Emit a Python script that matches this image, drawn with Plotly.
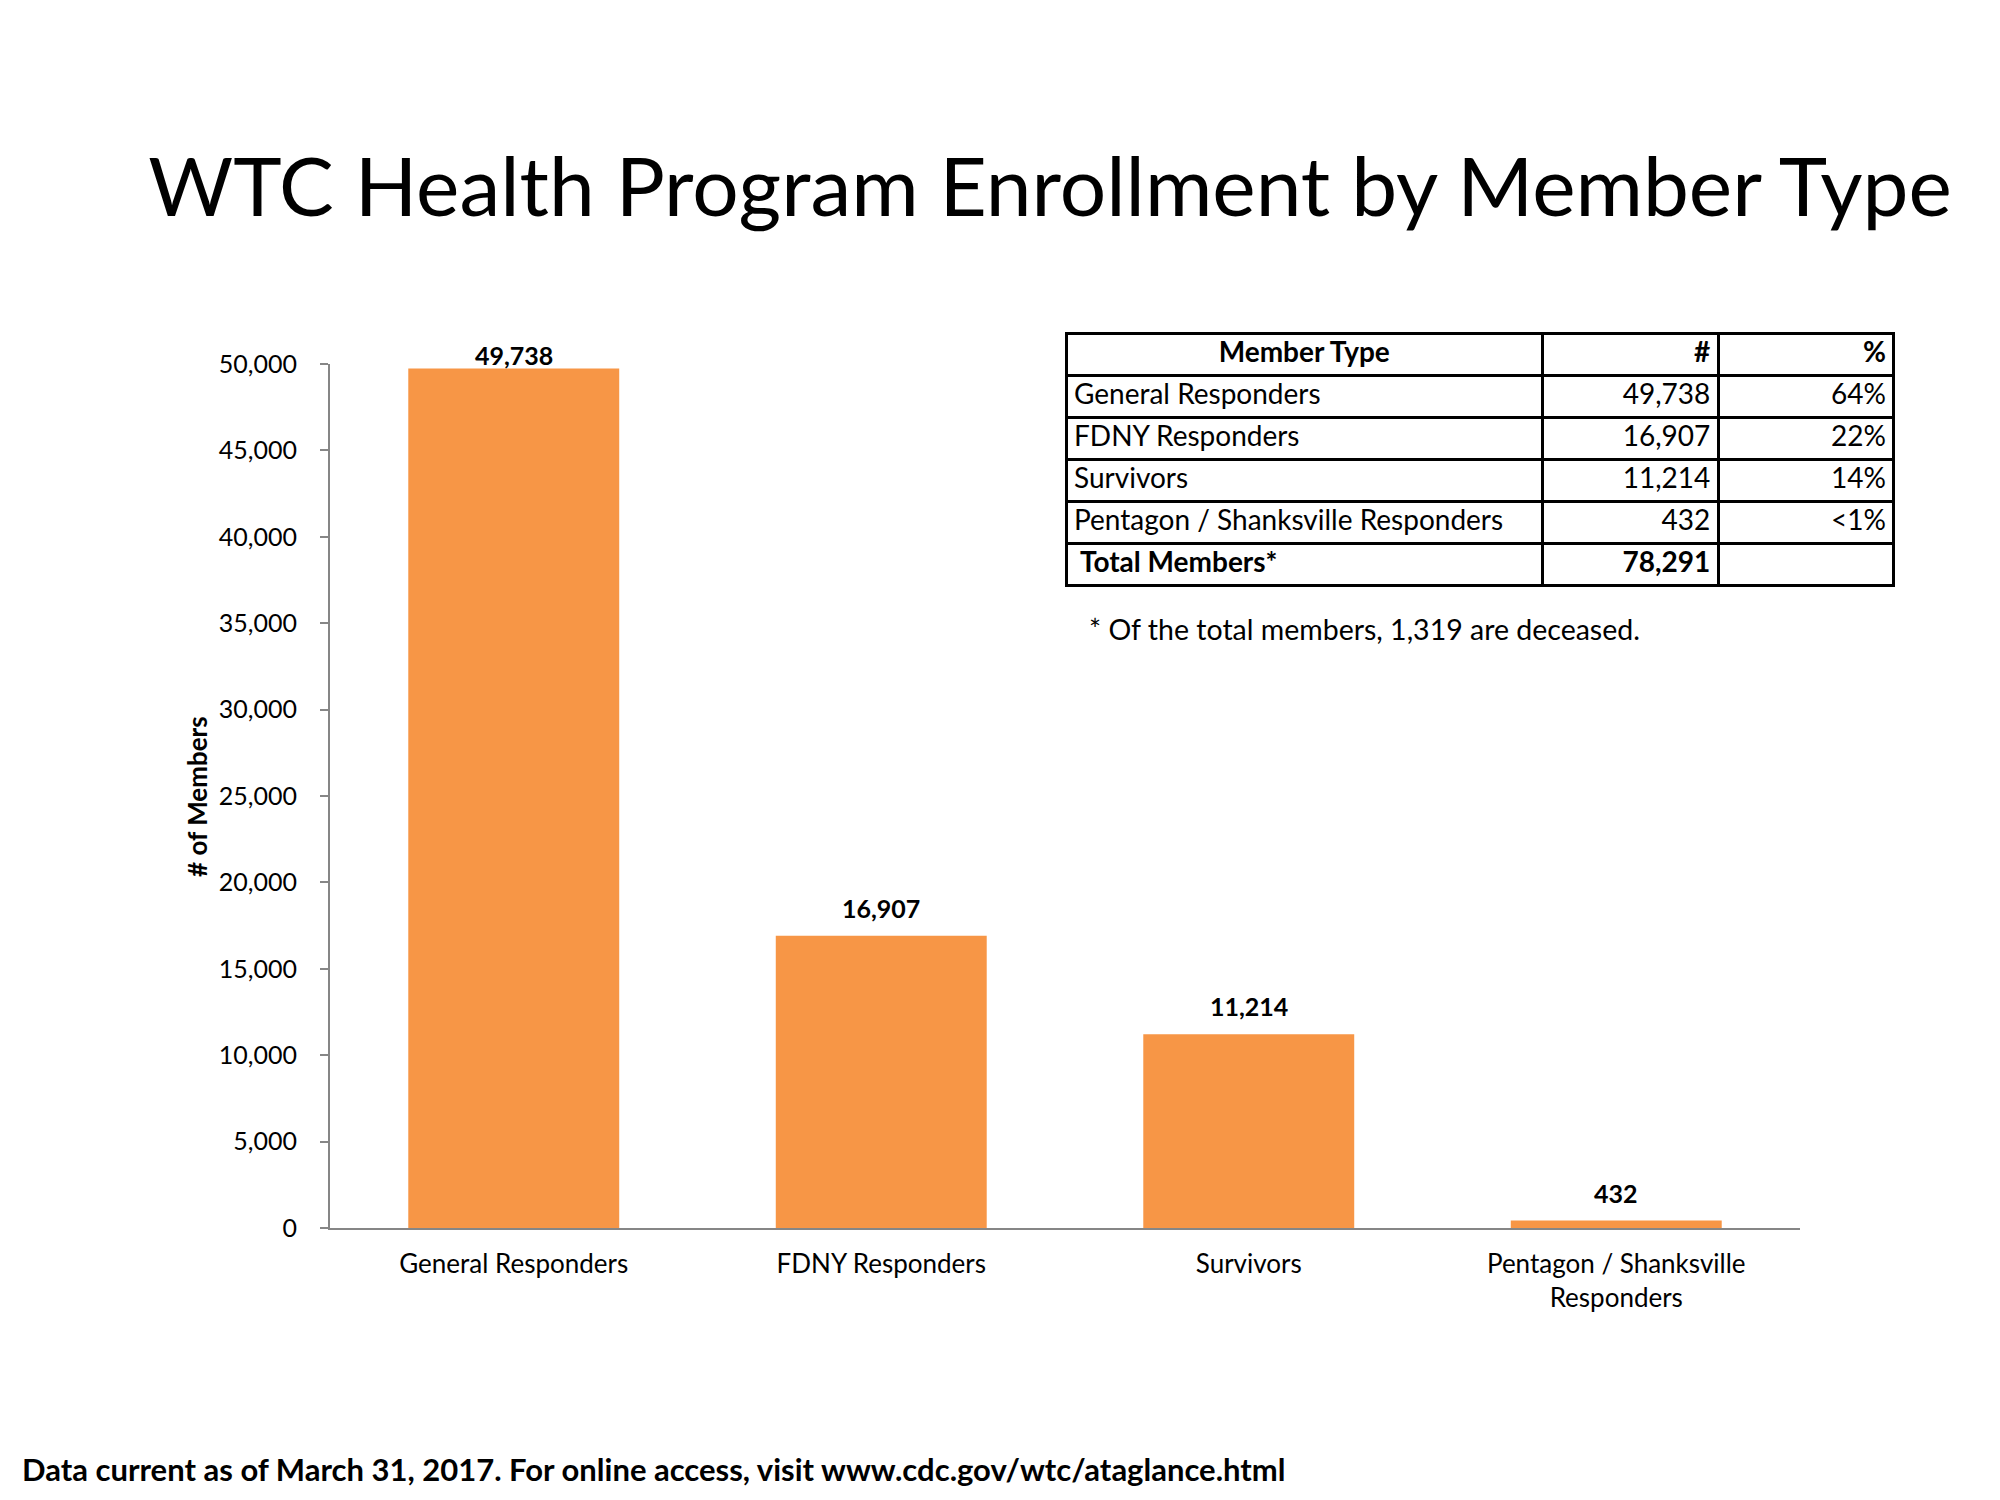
import plotly.graph_objects as go

categories = ["General Responders", "FDNY Responders", "Survivors", "Pentagon / Shanksville<br>Responders"]
members = [49738, 16907, 11214, 432]
table_types = ["General Responders", "FDNY Responders", "Survivors", "Pentagon / Shanksville Responders"]
table_pct = [64, 22, 14, 1]
table_pct_prefix = ["", "", "", "<"]
total_label = "Total Members*"
y_ticks = [0, 5000, 10000, 15000, 20000, 25000, 30000, 35000, 40000, 45000, 50000]

W, H = 2000, 1500
OFF = 8  # page body margin
L, R, T, B = 322, 70, 290, 280
PW, PH = W - L - R, H - T - B
PLOT_RIGHT, PLOT_TOP = 1800 - OFF, 364 - OFF
ROW_H = 42
TABLE_TOP = 333


def pxx(x):
    return (x - OFF - L) / PW


def pxy(y):
    return (H - B - (y - OFF)) / PH


FONT = "Lato"
ORANGE = "#F79646"
GRAY = "#868686"
TFONT = 28

fig = go.Figure()
fig.add_trace(go.Bar(x=categories, y=members, marker=dict(color=ORANGE, line=dict(width=0)),
                     hoverinfo="skip", showlegend=False))

annotations = []
ymax = 50000
for c, v in zip(categories, members):
    annotations.append(dict(x=c, y=v, xref="x", yref="y", text=f"<b>{v:,}</b>", showarrow=False,
                            yanchor="middle", xanchor="center",
                            yshift=14 if v > 0.95 * ymax else 28,
                            font=dict(family=FONT, size=25, color="black")))

annotations.append(dict(x=pxx(197), y=pxy(797), xref="paper", yref="paper", text="<b># of Members</b>",
                        textangle=-90, showarrow=False, xanchor="center", yanchor="middle",
                        font=dict(family=FONT, size=26, color="black")))
annotations.append(dict(x=pxx(1087), y=pxy(629), xref="paper", yref="paper",
                        text="* Of the total members, 1,319 are deceased.", showarrow=False,
                        xanchor="left", yanchor="middle", font=dict(family=FONT, size=28.5, color="black")))
annotations.append(dict(x=pxx(20), y=pxy(1469), xref="paper", yref="paper",
                        text="<b>Data current as of March 31, 2017. For online access, visit www.cdc.gov/wtc/ataglance.html</b>",
                        showarrow=False, xanchor="left", yanchor="middle",
                        font=dict(family=FONT, size=31, color="black")))

total = sum(members)
tx = [pxx(1066), pxx(1895)]
cw = [477, 176, 176]
tline = dict(color="black", width=3)
white = dict(color="white")

# rows without a prefix go in the main table; rows that need a prefix get their own one-row table
plain = [i for i, p in enumerate(table_pct_prefix) if p == ""]
special = [i for i, p in enumerate(table_pct_prefix) if p != ""]

y0 = TABLE_TOP
main_h = ROW_H * (len(plain) + 1)
fig.add_trace(go.Table(
    domain=dict(x=tx, y=[pxy(y0 + main_h + 2), pxy(y0)]),
    columnwidth=cw,
    header=dict(values=["Member Type", "#", "%"], align=["center", "right", "right"], height=ROW_H,
                line=tline, fill=white, font=dict(family=FONT, size=TFONT, color="black", weight="bold")),
    cells=dict(values=[[table_types[i] for i in plain], [members[i] for i in plain], [table_pct[i] for i in plain]],
               format=["", ",d", ""], suffix=["", "", "%"],
               align=["left", "right", "right"], height=ROW_H,
               line=tline, fill=white, font=dict(family=FONT, size=TFONT, color="black")),
))
y0 += main_h
for i in special:
    fig.add_trace(go.Table(
        domain=dict(x=tx, y=[pxy(y0 + ROW_H + 2), pxy(y0)]),
        columnwidth=cw,
        header=dict(values=[table_types[i], members[i], table_pct[i]], format=["", ",d", ""],
                    prefix=["", "", table_pct_prefix[i]], suffix=["", "", "%"],
                    align=["left", "right", "right"], height=ROW_H,
                    line=tline, fill=white, font=dict(family=FONT, size=TFONT, color="black")),
        cells=dict(values=[[], [], []], height=0, line=dict(width=0)),
    ))
    y0 += ROW_H
fig.add_trace(go.Table(
    domain=dict(x=tx, y=[pxy(y0 + ROW_H + 2), pxy(y0)]),
    columnwidth=cw,
    header=dict(values=[" " + total_label, total, ""], format=["", ",d", ""],
                align=["left", "right", "right"], height=ROW_H,
                line=tline, fill=white, font=dict(family=FONT, size=TFONT, color="black", weight="bold")),
    cells=dict(values=[[], [], []], height=0, line=dict(width=0)),
))

fig.update_layout(
    width=W, height=H,
    margin=dict(l=L, r=R, t=T, b=B, autoexpand=False),
    paper_bgcolor="white", plot_bgcolor="white",
    bargap=0.426,
    title=dict(text="WTC Health Program Enrollment by Member Type", xref="container", yref="container",
               x=(1050 - OFF) / W, y=1 - (187 - OFF) / H, xanchor="center", yanchor="middle",
               font=dict(family=FONT, size=82, color="black")),
    annotations=annotations,
    xaxis=dict(domain=[0, (PLOT_RIGHT - L) / PW], showline=True, linecolor=GRAY, linewidth=2, ticks="",
               showgrid=False, zeroline=False,
               tickfont=dict(family=FONT, size=26, color="black"), ticklabelstandoff=12, fixedrange=True),
    yaxis=dict(domain=[0, (H - B - PLOT_TOP) / PH], range=[0, ymax], tickvals=y_ticks, tickformat=",d",
               showline=True, linecolor=GRAY, linewidth=2,
               ticks="outside", ticklen=8, tickcolor=GRAY, tickwidth=2, showgrid=False, zeroline=False,
               tickfont=dict(family=FONT, size=25, color="black"), ticklabelstandoff=18, fixedrange=True),
)

fig.write_html("out.html")
